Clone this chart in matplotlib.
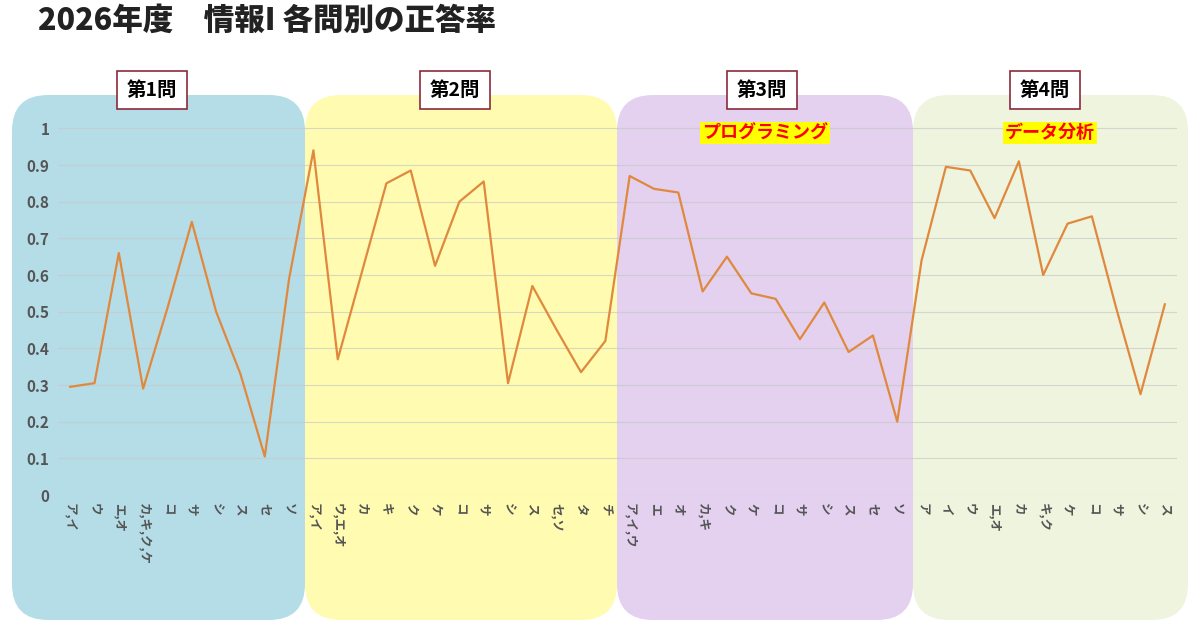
import matplotlib
matplotlib.use("Agg")
import matplotlib.pyplot as plt
from matplotlib.patches import FancyBboxPatch

plt.rcParams['font.family'] = ['Noto Sans CJK JP', 'DejaVu Sans']

q1_labels = ["ア,イ", "ウ", "エ,オ", "カ,キ,ク,ケ", "コ", "サ", "シ", "ス", "セ", "ソ"]
q1_values = [0.295, 0.305, 0.66, 0.29, 0.51, 0.745, 0.50, 0.33, 0.105, 0.59]
q2_labels = ["ア,イ", "ウ,エ,オ", "カ", "キ", "ク", "ケ", "コ", "サ", "シ", "ス", "セ,ソ", "タ", "チ"]
q2_values = [0.94, 0.37, 0.61, 0.85, 0.885, 0.625, 0.80, 0.855, 0.305, 0.57, 0.45, 0.335, 0.42]
q3_labels = ["ア,イ,ウ", "エ", "オ", "カ,キ", "ク", "ケ", "コ", "サ", "シ", "ス", "セ", "ソ"]
q3_values = [0.87, 0.835, 0.825, 0.555, 0.65, 0.55, 0.535, 0.425, 0.525, 0.39, 0.435, 0.20]
q4_labels = ["ア", "イ", "ウ", "エ,オ", "カ", "キ,ク", "ケ", "コ", "サ", "シ", "ス"]
q4_values = [0.64, 0.895, 0.885, 0.755, 0.91, 0.60, 0.74, 0.76, 0.51, 0.275, 0.52]

labels = q1_labels + q2_labels + q3_labels + q4_labels
values = q1_values + q2_values + q3_values + q4_values
x = list(range(len(values)))

W, H = 1200, 628
fig = plt.figure(figsize=(12, 6.28), dpi=100)

# coloured background panels (figure pixel coords)
panels = [(12, 305, "#b5dde8"), (305, 617, "#fffbb0"), (617, 913, "#e3d1ef"), (913, 1188, "#eef4dd")]
for x0, x1, c in panels:
    fig.patches.append(FancyBboxPatch((x0 / W, 8 / H), (x1 - x0) / W, (533 - 8) / H,
                                      boxstyle="round,pad=0,rounding_size=0.03",
                                      transform=fig.transFigure, fc=c, ec="none",
                                      mutation_aspect=W / H, zorder=-5))

ax = fig.add_axes([58 / W, 1 - 495 / H, (1177 - 58) / W, (495 - 110) / H])
ax.set_zorder(2)
ax.patch.set_alpha(0)
ax.plot(x, values, color="#e0893e", lw=1.6)
ax.set_xlim(-0.5, len(values) - 0.5)
ax.set_ylim(0, 1.05)
ax.set_yticks([0, 0.1, 0.2, 0.3, 0.4, 0.5, 0.6, 0.7, 0.8, 0.9, 1])
ax.set_yticklabels(["0", "0.1", "0.2", "0.3", "0.4", "0.5", "0.6", "0.7", "0.8", "0.9", "1"],
                   fontsize=11, fontweight="bold", color="#555555")
ax.set_xticks(x)
ax.set_xticklabels(labels, rotation=270, fontsize=9, fontweight="bold", color="#555555",
                   va="top", ha="center")
ax.tick_params(length=0, pad=6)
ax.grid(axis="y", color="#c8c8c8", lw=0.8, alpha=0.7)
for s in ax.spines.values():
    s.set_visible(False)

# section headers
for cx, t in [(152, "第1問"), (455, "第2問"), (762, "第3問"), (1045, "第4問")]:
    fig.text(cx / W, 1 - 90 / H, t, ha="center", va="center", fontsize=14, fontweight="bold",
             zorder=5, bbox=dict(boxstyle="square,pad=0.5", fc="white", ec="#8b2a3a", lw=1.2))
for cx, t in [(765, "プログラミング"), (1050, "データ分析")]:
    fig.text(cx / W, 1 - 133 / H, t, ha="center", va="center", fontsize=13, fontweight="bold",
             color="#ff0000", zorder=5, bbox=dict(boxstyle="square,pad=0.1", fc="#ffff00", ec="none"))

fig.text(38 / W, 1 - 20 / H, "2026年度　情報I 各問別の正答率", ha="left", va="center",
         fontsize=22, fontweight="heavy", color="#222222")

fig.savefig("out.png", dpi=100)
